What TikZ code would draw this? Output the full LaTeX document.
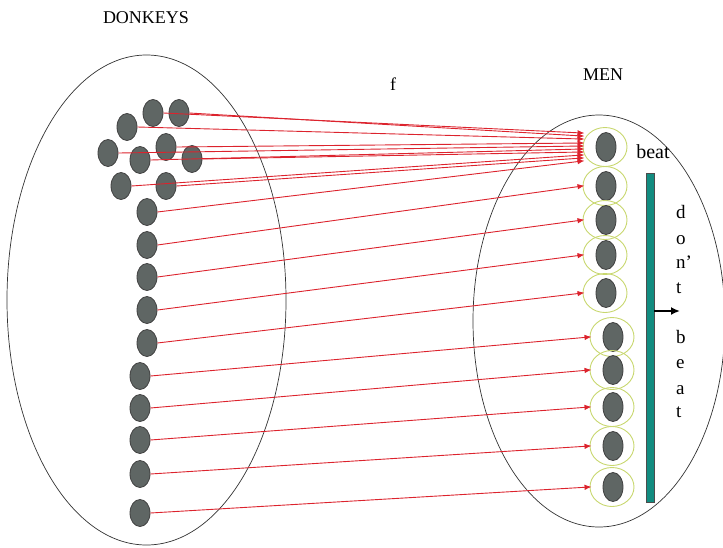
\documentclass[tikz,border=0pt]{standalone}
\usepackage{fontspec}
\setmainfont{Liberation Serif}
\usetikzlibrary{arrows.meta,shapes.geometric}
\definecolor{donkeygray}{RGB}{95,102,100}
\definecolor{ringgreen}{RGB}{200,215,110}
\definecolor{mapred}{RGB}{220,35,45}
\definecolor{barteal}{RGB}{18,140,128}

\begin{document}
\begin{tikzpicture}[x=1pt,y=-1pt]
\tikzset{SetLine/.style={ellipse,draw=black!80,line width=0.7pt,inner sep=0pt},
  Donkey/.style={ellipse,draw=black!75,line width=0.8pt,fill=donkeygray,minimum width=20pt,minimum height=27pt,inner sep=0pt},
  Man/.style={Donkey,minimum height=29pt},
  Ring/.style={ellipse,draw=ringgreen,line width=0.9pt,minimum width=44pt,minimum height=39pt,inner sep=0pt},
  Map/.style={draw=mapred,line width=0.9pt,-{Latex[length=7pt,width=5.5pt]},shorten >=-2pt},
  Label/.style={font=\fontsize{18}{20}\selectfont,inner sep=0pt}}
\useasboundingbox (0,0) rectangle (723,547);
\node[SetLine,minimum width=279pt,minimum height=490pt] (D) at (146.5,300) {};
\node[SetLine,minimum width=252pt,minimum height=412pt] (M) at (599,321) {};
\node[Label] (donkeys) at (146,18) {DONKEYS};
\node[Label] (men) at (603,75) {MEN};
\node[Label] (f) at (393,84) {f};
\foreach \x/\y [count=\i] in {153/113,179/113,127/127,166/147,108/153,140/160,192/159,121/186,166/186,
  147/212,147/245,147/277,147/310,147/343,140/376,140/408,140/440,140/474,140/513}
  \node[Donkey] (d\i) at (\x,\y) {};
\foreach \x/\y [count=\i] in {606/147,606/186,606/220,606/255,606/293,613/337,613/370,613/407,613/446,613/487}{
  \node[Ring] (r\i) at (\x-1,\y) {};
  \node[Man] (m\i) at (\x,\y) {};}
\foreach \i/\o in {1/14,2/11,3/8,4/4,5/1,6/-2,7/-5,8/-8,9/-11,10/-14}
  \draw[Map] (d\i.east) -- ([yshift=\o pt]r1.west);
\foreach \i [evaluate=\i as \j using int(\i+9)] in {2,...,10}
  \draw[Map] (d\j.east) -- (r\i.west);
\node[Label,font=\fontsize{20}{22}\selectfont] (beat) at (653,152) {beat};
\node[draw=black!70,fill=barteal,line width=0.6pt,minimum width=8pt,minimum height=329pt,inner sep=0pt] (bar) at (650,337.5) {};
\coordinate (push) at (680,311);
\draw[line width=2pt,-{Latex[length=9pt,width=8pt]}] (bar.east |- push) -- (push);
\foreach \c/\y [count=\i] in {d/218,o/244,n'/268,t/293,b/343,e/368,a/394,t/417}
  \node[Label,font=\fontsize{19}{21}\selectfont,anchor=base west] (v\i) at (676,\y) {\c};
\end{tikzpicture}
\end{document}
